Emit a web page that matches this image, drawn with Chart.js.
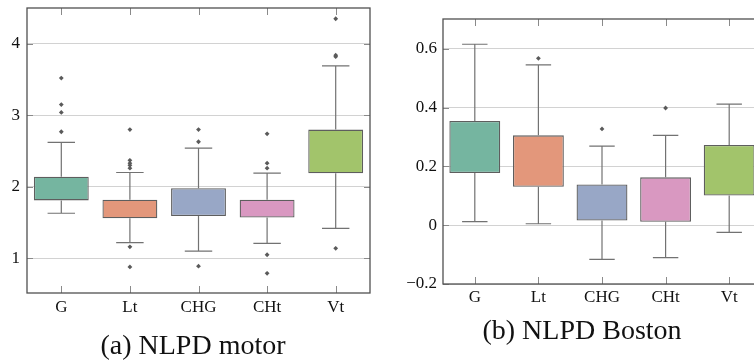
<!DOCTYPE html>
<html>
<head>
<meta charset="utf-8">
<script src="https://cdn.jsdelivr.net/npm/chart.js@4.4.1/dist/chart.umd.min.js"></script>
<style>
  html, body { margin: 0; padding: 0; background: #fff; overflow: hidden; }
  body { width: 754px; height: 364px; position: relative; }
  canvas { position: absolute; top: 0; }
  #cvMotor { left: 0; }
  #cvBoston { left: 390px; }
</style>
</head>
<body>
<canvas id="cvMotor" width="380" height="364"></canvas>
<canvas id="cvBoston" width="380" height="364"></canvas>
<script>
const categories = ['G', 'Lt', 'CHG', 'CHt', 'Vt'];
const boxColors  = ['#75b5a0', '#e3977b', '#98a7c6', '#d998c1', '#a2c46b'];

// (a) motor
const motorQ1   = [1.81, 1.56, 1.59, 1.57, 2.19];
const motorQ3   = [2.14, 1.82, 1.98, 1.82, 2.80];
const motorLow  = [1.63, 1.22, 1.10, 1.21, 1.42];
const motorHigh = [2.62, 2.20, 2.54, 2.19, 3.69];
const motorOutliers = [
  [3.52, 3.15, 3.04, 2.77],
  [2.80, 2.37, 2.33, 2.30, 2.26, 1.16, 0.88],
  [2.80, 2.63, 0.89],
  [2.74, 2.33, 2.26, 1.05, 0.79],
  [4.35, 3.84, 3.82, 1.14]
];
const motorTicks  = [1, 2, 3, 4];
const motorLabels = ['1', '2', '3', '4'];

// (b) Boston
const bostonQ1   = [0.178, 0.131, 0.016, 0.012, 0.101];
const bostonQ3   = [0.355, 0.306, 0.139, 0.163, 0.273];
const bostonLow  = [0.012, 0.005, -0.116, -0.110, -0.024];
const bostonHigh = [0.616, 0.546, 0.269, 0.306, 0.412];
const bostonOutliers = [[], [0.568], [0.328], [0.399], []];
const bostonTicks  = [-0.2, 0, 0.2, 0.4, 0.6];
const bostonLabels = ['\u22120.2', '0', '0.2', '0.4', '0.6'];

const SERIF = "'Liberation Serif', 'DejaVu Serif', serif";
const FONT = { family: SERIF, size: 17 };

// whiskers, caps, frame, inner tick marks and the caption
const boxExtras = {
  id: 'boxExtras',
  afterDatasetsDraw(chart, args, o) {
    const { ctx, chartArea: a, scales: { x, y } } = chart;
    const meta = chart.getDatasetMeta(0);
    ctx.save();
    ctx.strokeStyle = '#727272';
    ctx.lineWidth = 1.2;
    meta.data.forEach((bar, i) => {
      const cx = bar.x, half = bar.width / 4;
      const yLo = y.getPixelForValue(o.low[i]), yHi = y.getPixelForValue(o.high[i]);
      const yQ1 = y.getPixelForValue(o.q1[i]), yQ3 = y.getPixelForValue(o.q3[i]);
      ctx.beginPath();
      ctx.moveTo(cx, yQ3); ctx.lineTo(cx, yHi);
      ctx.moveTo(cx - half, yHi); ctx.lineTo(cx + half, yHi);
      ctx.moveTo(cx, yQ1); ctx.lineTo(cx, yLo);
      ctx.moveTo(cx - half, yLo); ctx.lineTo(cx + half, yLo);
      ctx.stroke();
    });
    // inner ticks
    ctx.strokeStyle = '#8a8a8a';
    ctx.lineWidth = 1;
    ctx.beginPath();
    o.ticks.forEach(v => {
      const py = Math.round(y.getPixelForValue(v)) + 0.5;
      ctx.moveTo(a.left, py); ctx.lineTo(a.left + 6, py);
      ctx.moveTo(a.right, py); ctx.lineTo(a.right - 6, py);
    });
    categories.forEach((c, i) => {
      const px = Math.round(x.getPixelForValue(i)) + 0.5;
      ctx.moveTo(px, a.top); ctx.lineTo(px, a.top + 7);
      ctx.moveTo(px, a.bottom); ctx.lineTo(px, a.bottom - 7);
    });
    ctx.stroke();
    // frame
    ctx.strokeStyle = '#505050';
    ctx.lineWidth = 1.3;
    ctx.strokeRect(a.left, a.top, a.right - a.left, a.bottom - a.top);
    // caption
    ctx.fillStyle = '#111';
    ctx.font = '28px ' + SERIF;
    ctx.textAlign = 'center';
    ctx.textBaseline = 'alphabetic';
    ctx.fillText(o.caption, o.capX, o.capY);
    ctx.restore();
  }
};

function buildBoxChart(id, d) {
  const outlierPts = [];
  d.outliers.forEach((list, i) => list.forEach(v => outlierPts.push({ x: categories[i], y: v })));
  return new Chart(document.getElementById(id), {
    type: 'bar',
    data: {
      labels: categories,
      datasets: [{
        data: d.q1.map((v, i) => [v, d.q3[i]]),
        backgroundColor: boxColors,
        borderColor: '#5e5e5e',
        borderWidth: 1.3,
        borderSkipped: false,
        barPercentage: 0.8,
        categoryPercentage: 1.0,
        order: 2
      }, {
        type: 'scatter',
        data: outlierPts,
        pointStyle: 'rectRot',
        pointRadius: 2.4,
        backgroundColor: '#5a5a5a',
        borderColor: '#5a5a5a',
        borderWidth: 0,
        order: 1
      }]
    },
    options: {
      responsive: false,
      animation: false,
      devicePixelRatio: 1,
      layout: { padding: d.padding },
      plugins: {
        legend: { display: false },
        tooltip: { enabled: false },
        boxExtras: {
          q1: d.q1, q3: d.q3, low: d.low, high: d.high, ticks: d.ticks,
          caption: d.caption, capX: d.capX, capY: d.capY
        }
      },
      scales: {
        x: {
          type: 'category',
          offset: true,
          grid: { display: false, drawTicks: false },
          border: { display: false },
          ticks: { font: FONT, color: '#111', padding: d.xPad, maxRotation: 0 },
          afterFit: s => { s.height = d.xHeight; s.paddingLeft = 0; s.paddingRight = 0; }
        },
        y: {
          min: d.min, max: d.max,
          grid: { color: '#d2d2d2', lineWidth: 1, drawTicks: false },
          border: { display: false },
          ticks: {
            font: FONT, color: '#111', padding: d.yPad,
            callback: (v) => { const k = d.ticks.indexOf(v); return k >= 0 ? d.labels[k] : ''; }
          },
          afterBuildTicks: s => { s.ticks = d.ticks.map(v => ({ value: v })); },
          afterFit: s => { s.width = d.yWidth; s.paddingTop = 0; s.paddingBottom = 0; }
        }
      }
    },
    plugins: [boxExtras]
  });
}

buildBoxChart('cvMotor', {
  q1: motorQ1, q3: motorQ3, low: motorLow, high: motorHigh, outliers: motorOutliers,
  ticks: motorTicks, labels: motorLabels, min: 0.515, max: 4.5,
  padding: { top: 8, right: 10, left: 0, bottom: 44 },
  yWidth: 27, xHeight: 27, xPad: 4, yPad: 7,
  caption: '(a) NLPD motor', capX: 193, capY: 354
});

buildBoxChart('cvBoston', {
  q1: bostonQ1, q3: bostonQ3, low: bostonLow, high: bostonHigh, outliers: bostonOutliers,
  ticks: bostonTicks, labels: bostonLabels, min: -0.2, max: 0.702,
  padding: { top: 19, right: 9, left: 0, bottom: 54 },
  yWidth: 53, xHeight: 26, xPad: 3, yPad: 6,
  caption: '(b) NLPD Boston', capX: 192, capY: 339
});
</script>
</body>
</html>
